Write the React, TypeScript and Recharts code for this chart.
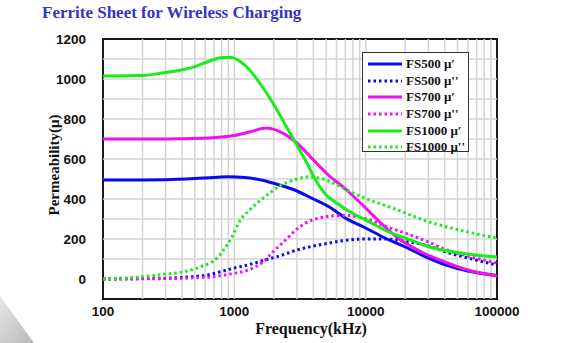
import React from "react";
import {
    LineChart,
    Line,
    XAxis,
    YAxis,
    ReferenceLine,
    ReferenceArea,
} from "recharts";

// [frequency kHz, permeability]
const fs500Real = [
    [100, 495], [200, 495], [300, 496], [500, 502], [700, 508], [900, 511], [1200, 508],
    [1600, 495], [2200, 470], [3000, 440], [4000, 400], [5300, 360], [7000, 305],
    [10000, 255], [14000, 205], [20000, 160], [30000, 105], [41000, 70], [60000, 40], [100000, 18],
];
const fs500Imag = [
    [100, 0], [200, 2], [300, 4], [435, 10], [620, 20], [800, 38], [1000, 55], [1300, 72],
    [1650, 92], [2200, 115], [3000, 145], [4000, 165], [5300, 180], [7000, 193], [10000, 200],
    [14000, 200], [20000, 188], [30000, 165], [41000, 135], [60000, 105], [100000, 70],
];
const fs700Real = [
    [100, 700], [300, 700], [500, 702], [800, 710], [1000, 718], [1300, 735], [1766, 755],
    [2200, 738], [2990, 680], [4000, 595], [5000, 530], [7160, 445], [10000, 355], [12800, 285],
    [18000, 200], [25700, 140], [40000, 85], [60000, 45], [100000, 15],
];
const fs700Imag = [
    [100, 0], [300, 2], [500, 6], [700, 12], [925, 25], [1300, 47], [1650, 85], [2000, 140],
    [2500, 200], [3000, 250], [3700, 288], [4470, 305], [5500, 315], [7160, 318], [10700, 295],
    [14000, 265], [19800, 230], [30000, 185], [41300, 145], [60000, 115], [100000, 80],
];
const fs1000Real = [
    [100, 1015], [200, 1017], [270, 1028], [480, 1058], [650, 1090], [818, 1108], [950, 1108],
    [1245, 1060], [1600, 970], [1966, 880], [2500, 760], [2990, 670], [3500, 590], [4200, 490],
    [5000, 420], [6000, 380], [7200, 345], [9000, 310], [10700, 285], [15000, 235], [20000, 205],
    [30700, 160], [60000, 125], [100000, 110],
];
const fs1000Imag = [
    [100, 0], [191, 10], [300, 25], [405, 35], [548, 60], [736, 105], [880, 170], [958, 210],
    [1100, 290], [1310, 345], [1700, 410], [2220, 465], [3000, 500], [3600, 510], [5000, 495],
    [6300, 465], [7200, 445], [10700, 395], [15200, 360], [30700, 285], [60000, 235], [100000, 205],
];

const freqTicks = [100, 1000, 10000, 100000];
const minorFreqs = [100, 1000, 10000].flatMap((d) => [2, 3, 4, 5, 6, 7, 8, 9].map((m) => m * d));
const permTicks = [0, 200, 400, 600, 800, 1000, 1200];
const permGrid = [100, 200, 300, 400, 500, 600, 700, 800, 900, 1000, 1100];

const toPoints = (arr: number[][]) => arr.map(([f, v]) => ({ f, v }));

const series = [
    { name: "FS500 μ′", data: fs500Real, color: "#0a0aee", dotted: false },
    { name: "FS500 μ''", data: fs500Imag, color: "#0a0aee", dotted: true },
    { name: "FS700 μ′", data: fs700Real, color: "#f010f0", dotted: false },
    { name: "FS700 μ''", data: fs700Imag, color: "#f010f0", dotted: true },
    { name: "FS1000 μ′", data: fs1000Real, color: "#16ee16", dotted: false },
    { name: "FS1000 μ''", data: fs1000Imag, color: "#16ee16", dotted: true },
];

const serif = "'Liberation Serif', 'Times New Roman', serif";
const sans = "'Liberation Sans', Arial, sans-serif";

function LegendBox() {
    return (
        <div
            style={{
                position: "absolute",
                left: 362,
                top: 52,
                width: 107,
                height: 100,
                border: "1px solid #333",
                background: "#fff",
                boxSizing: "border-box",
                paddingTop: 3,
            }}
        >
            {series.map((s) => (
                <div key={s.name} style={{ display: "flex", alignItems: "center", height: 16.6 }}>
                    <svg width={40} height={8} style={{ marginLeft: 3, flex: "none" }}>
                        <line
                            x1={2}
                            x2={36}
                            y1={4}
                            y2={4}
                            stroke={s.color}
                            strokeWidth={3}
                            strokeDasharray={s.dotted ? "2.5 3" : undefined}
                        />
                    </svg>
                    <span style={{ fontFamily: serif, fontWeight: 700, fontSize: 13, color: "#111", whiteSpace: "nowrap" }}>
                        {s.name}
                    </span>
                </div>
            ))}
        </div>
    );
}

export default function App() {
    return (
        <div style={{ position: "absolute", left: 0, top: 0, width: 567, height: 343, background: "#fff", overflow: "hidden" }}>
            {/* background wedge */}
            <svg width={567} height={343} style={{ position: "absolute", left: 0, top: 0 }}>
                <defs>
                    <linearGradient id="wedge" x1="0" y1="0" x2="1" y2="1">
                        <stop offset="0%" stopColor="#e6e6e6" />
                        <stop offset="100%" stopColor="#b8b8b8" />
                    </linearGradient>
                </defs>
                <polygon points="0,296 34,343 0,343" fill="url(#wedge)" />
            </svg>
            <div
                style={{
                    position: "absolute",
                    left: 42,
                    top: 3,
                    fontFamily: serif,
                    fontWeight: 700,
                    fontSize: 17,
                    color: "#3434c8",
                    whiteSpace: "nowrap",
                }}
            >
                Ferrite Sheet for Wireless Charging
            </div>
            <div style={{ position: "absolute", left: 0, top: 0 }}>
                <LineChart width={567} height={343} margin={{ top: 39, right: 70, bottom: 14, left: 0 }}>
                    <XAxis
                        type="number"
                        dataKey="f"
                        scale="log"
                        domain={[100, 100000]}
                        ticks={freqTicks}
                        interval={0}
                        allowDataOverflow
                        tickLine={false}
                        axisLine={false}
                        tickMargin={1}
                        height={30}
                        tick={{ fontSize: 13.5, fontWeight: 700, fill: "#111", fontFamily: sans }}
                    />
                    <YAxis
                        type="number"
                        domain={[-100, 1200]}
                        ticks={permTicks}
                        interval={0}
                        allowDataOverflow
                        width={103}
                        tickLine={false}
                        axisLine={false}
                        tickMargin={11}
                        tick={{ fontSize: 13.5, fontWeight: 700, fill: "#111", fontFamily: sans }}
                    />
                    {minorFreqs.map((f) => (
                        <ReferenceLine key={"x" + f} x={f} stroke="#d4d4d4" strokeWidth={1.5} />
                    ))}
                    {[1000, 10000].map((f) => (
                        <ReferenceLine key={"xm" + f} x={f} stroke="#d4d4d4" strokeWidth={1.5} />
                    ))}
                    {permGrid.map((p) => (
                        <ReferenceLine key={"y" + p} y={p} stroke="#d4d4d4" strokeWidth={1.5} />
                    ))}
                    {series.map((s) => (
                        <Line
                            key={s.name}
                            name={s.name}
                            data={toPoints(s.data)}
                            dataKey="v"
                            type="monotone"
                            stroke={s.color}
                            strokeWidth={3}
                            strokeDasharray={s.dotted ? "2.5 3" : undefined}
                            dot={false}
                            activeDot={false}
                            isAnimationActive={false}
                        />
                    ))}
                    <ReferenceArea x1={100} x2={100000} y1={-100} y2={1200} fill="none" stroke="#1a1a1a" strokeWidth={2} />
                </LineChart>
            </div>
            <LegendBox />
            <div
                style={{
                    position: "absolute",
                    left: 54,
                    top: 165,
                    transform: "translate(-50%, -50%) rotate(-90deg)",
                    fontFamily: serif,
                    fontWeight: 700,
                    fontSize: 15,
                    color: "#111",
                    whiteSpace: "nowrap",
                }}
            >
                Permeability(μ)
            </div>
            <div
                style={{
                    position: "absolute",
                    left: 311,
                    top: 329,
                    transform: "translate(-50%, -50%)",
                    fontFamily: serif,
                    fontWeight: 700,
                    fontSize: 16,
                    color: "#111",
                    whiteSpace: "nowrap",
                }}
            >
                Frequency(kHz)
            </div>
        </div>
    );
}
